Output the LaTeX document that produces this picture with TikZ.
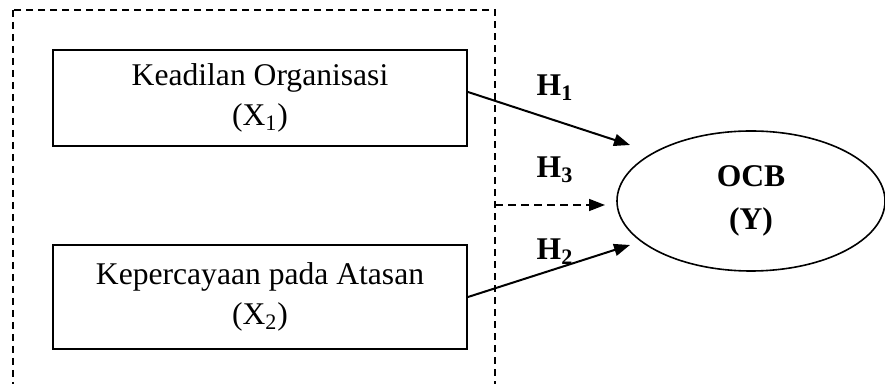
\documentclass[tikz,border=0pt]{standalone}
\usepackage{fontspec}
\setmainfont{Liberation Serif}
\usetikzlibrary{shapes.geometric,arrows.meta}
\begin{document}
\begin{tikzpicture}[x=0.5pt,y=-0.5pt,
  every node/.style={font=\fontsize{15.8}{20}\selectfont},
  varbox/.style={draw,line width=1pt,minimum width=207pt,align=center,inner sep=0pt},
  frame/.style={line width=0.6pt,dash pattern=on 3.5pt off 2.5pt},
  hyp/.style={font=\fontsize{15.8}{20}\selectfont\bfseries},
  arr/.style={line width=1pt,-{Triangle[length=8pt,width=6pt]}},
  darr/.style={line width=0.8pt,dash pattern=on 4pt off 2.5pt,-{Triangle[length=8pt,width=6pt]}}]
\useasboundingbox (0,0) rectangle (885,384);
\clip (0,0) rectangle (885,384);
\fill[white] (0,0) rectangle (885,384);
\draw[frame] (13,10) rectangle (495,420);
\coordinate (frameright) at (495,205);
\node[varbox,minimum height=48pt] (box1) at (260,98) {Keadilan Organisasi\\(X\textsubscript{1})};
\node[varbox,minimum height=52pt] (box2) at (260,297) {Kepercayaan pada Atasan\\(X\textsubscript{2})};
\node[draw,line width=0.8pt,ellipse,minimum width=134pt,minimum height=70pt,align=center,inner sep=0pt,
  font=\fontsize{15.8}{21.5}\selectfont\bfseries] (ocb) at (751,201) {OCB\\(Y)};
\coordinate (h1end) at (630,145);
\coordinate (h2end) at (630,245);
\coordinate (h3end) at (605,205);
\draw[arr] (box1.east) ++(0,-6) coordinate (h1start) -- (h1end);
\draw[arr] (box2.east) -- (h2end);
\draw[darr] (frameright) -- (h3end);
\node[hyp] (lh1) at (555,88) {H\textsubscript{1}};
\node[hyp] (lh3) at (555,170) {H\textsubscript{3}};
\node[hyp] (lh2) at (555,252) {H\textsubscript{2}};
\end{tikzpicture}
\end{document}
